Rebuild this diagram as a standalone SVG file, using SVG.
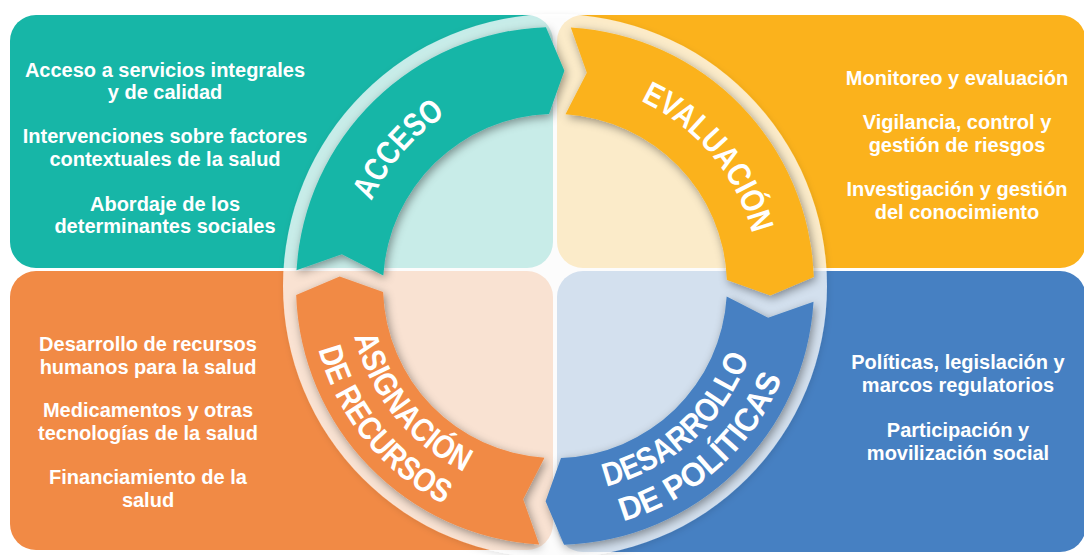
<svg xmlns="http://www.w3.org/2000/svg" width="1084" height="555" viewBox="0 0 1084 555">
  <style>
    .body { font-family: "Liberation Sans", Arial, sans-serif; font-weight: 700; font-size: 20px; fill: #ffffff; text-anchor: middle; }
    .lbl { font-family: "Liberation Sans", Arial, sans-serif; font-weight: 700; font-size: 33px; fill: #ffffff; text-anchor: middle; }
    .teal { fill: #17b6a7; }
    .yellow { fill: #fbb21c; }
    .orange { fill: #f18a45; }
    .blue { fill: #4680c2; }
  </style>
  <defs>
    <filter id="sh" x="-20%" y="-20%" width="140%" height="140%">
      <feDropShadow dx="2" dy="3" stdDeviation="5" flood-color="#000000" flood-opacity="0.4"/>
    </filter>
    <filter id="ringsh" x="-10%" y="-10%" width="120%" height="120%">
      <feDropShadow dx="1" dy="2" stdDeviation="3" flood-color="#000000" flood-opacity="0.15"/>
    </filter>
    <path id="p-acceso" d="M355.49,317.60 A204,204 0 0 1 558.53,82.03"/>
    <path id="p-eval" d="M555,82 A204,204 0 0 1 755.90,321.42"/>
    <path id="p-asig1" d="M351.80,246.50 A207,207 0 0 0 551.39,492.97"/>
    <path id="p-asig2" d="M314.50,239.25 A245,245 0 0 0 550.72,530.97"/>
    <path id="p-des1" d="M526.19,490.99 A207,207 0 0 0 761.87,278.78"/>
    <path id="p-des2" d="M520.90,528.62 A245,245 0 0 0 799.85,277.45"/>
  </defs>

  <g id="node-acceso">
    <rect class="teal" x="10" y="15" width="543" height="253" rx="26"/>
    <text class="body" x="165" y="77">Acceso a servicios integrales</text>
    <text class="body" x="165" y="99">y de calidad</text>
    <text class="body" x="165" y="143">Intervenciones sobre factores</text>
    <text class="body" x="165" y="166">contextuales de la salud</text>
    <text class="body" x="165" y="211">Abordaje de los</text>
    <text class="body" x="165" y="233">determinantes sociales</text>
  </g>

  <g id="node-evaluacion">
    <rect class="yellow" x="557" y="15" width="529" height="253" rx="26"/>
    <text class="body" x="957" y="85">Monitoreo y evaluación</text>
    <text class="body" x="957" y="129">Vigilancia, control y</text>
    <text class="body" x="957" y="152">gestión de riesgos</text>
    <text class="body" x="957" y="196">Investigación y gestión</text>
    <text class="body" x="957" y="219">del conocimiento</text>
  </g>

  <g id="node-asignacion">
    <rect class="orange" x="10" y="271" width="543" height="279" rx="26"/>
    <text class="body" x="148" y="351">Desarrollo de recursos</text>
    <text class="body" x="148" y="374">humanos para la salud</text>
    <text class="body" x="148" y="417">Medicamentos y otras</text>
    <text class="body" x="148" y="440">tecnologías de la salud</text>
    <text class="body" x="148" y="484">Financiamiento de la</text>
    <text class="body" x="148" y="507">salud</text>
  </g>

  <g id="node-desarrollo">
    <rect class="blue" x="557" y="271" width="529" height="281" rx="26"/>
    <text class="body" x="958" y="369">Políticas, legislación y</text>
    <text class="body" x="958" y="392">marcos regulatorios</text>
    <text class="body" x="958" y="437">Participación y</text>
    <text class="body" x="958" y="460">movilización social</text>
  </g>

  <g id="cycle-disk">
    <circle cx="555" cy="286" r="272" fill="#ffffff" fill-opacity="0.75" filter="url(#ringsh)"/>
  </g>

  <g id="connectors">
    <g id="stage-acceso">
      <path class="teal" filter="url(#sh)" d="M296.48,270.19 A259,259 0 0 1 545.96,27.16 L564.40,70.70 L549.00,114.10 A172,172 0 0 0 383.32,275.50 L341.87,254.15 Z"/>
      <text class="lbl"><textPath href="#p-acceso" startOffset="50%" textLength="115" lengthAdjust="spacingAndGlyphs">ACCESO</textPath></text>
    </g>
    <g id="stage-evaluacion">
      <path class="yellow" filter="url(#sh)" d="M570.81,27.48 A259,259 0 0 1 813.84,276.96 L770.30,295.40 L726.90,280.00 A172,172 0 0 0 565.50,114.32 L586.85,72.87 Z"/>
      <text class="lbl"><textPath href="#p-eval" startOffset="50%" textLength="179" lengthAdjust="spacingAndGlyphs">EVALUACIÓN</textPath></text>
    </g>
    <g id="stage-desarrollo">
      <path class="blue" filter="url(#sh)" d="M813.52,301.81 A259,259 0 0 1 564.04,544.84 L545.60,501.30 L561.00,457.90 A172,172 0 0 0 726.68,296.50 L768.13,317.85 Z"/>
      <text class="lbl"><textPath href="#p-des1" startOffset="50%" textLength="200" lengthAdjust="spacingAndGlyphs">DESARROLLO</textPath></text>
      <text class="lbl"><textPath href="#p-des2" startOffset="50%" textLength="221" lengthAdjust="spacingAndGlyphs">DE POLÍTICAS</textPath></text>
    </g>
    <g id="stage-asignacion">
      <path class="orange" filter="url(#sh)" d="M539.19,544.52 A259,259 0 0 1 296.16,295.04 L339.70,276.60 L383.10,292.00 A172,172 0 0 0 544.50,457.68 L523.15,499.13 Z"/>
      <text class="lbl"><textPath href="#p-asig1" startOffset="50%" textLength="180" lengthAdjust="spacingAndGlyphs">ASIGNACIÓN</textPath></text>
      <text class="lbl"><textPath href="#p-asig2" startOffset="50%" textLength="205" lengthAdjust="spacingAndGlyphs">DE RECURSOS</textPath></text>
    </g>
  </g>
</svg>
